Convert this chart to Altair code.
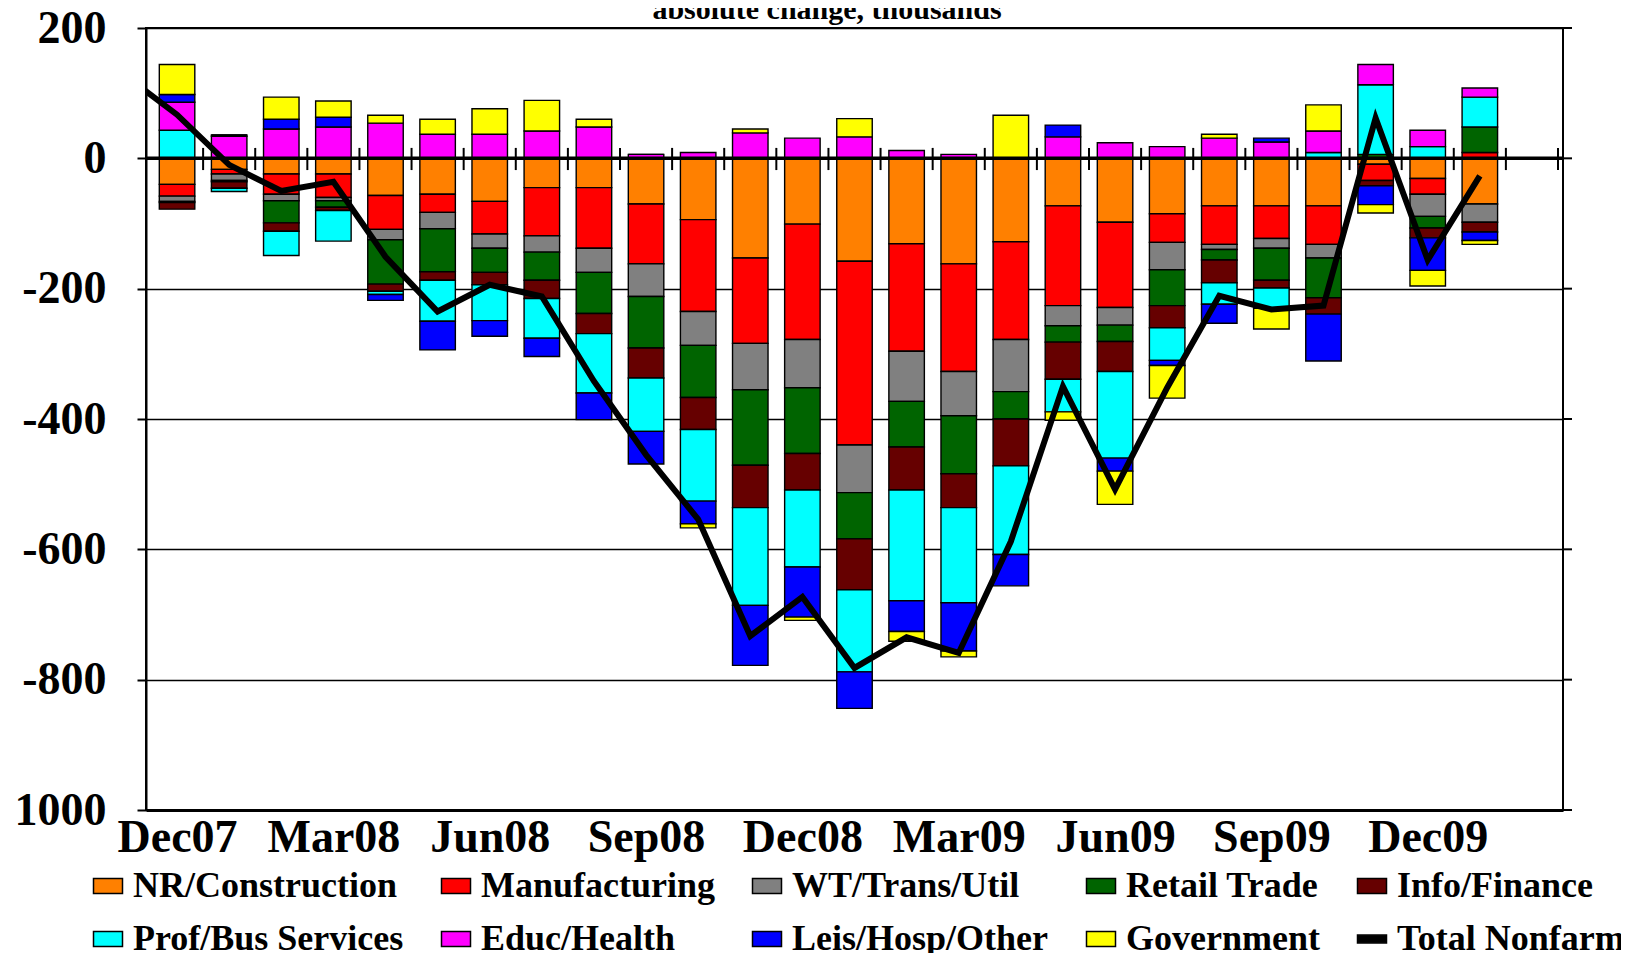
import altair as alt
import pandas as pd

# ---------------- data ----------------
months = ["Dec07", "Jan08", "Feb08", "Mar08", "Apr08", "May08", "Jun08", "Jul08",
          "Aug08", "Sep08", "Oct08", "Nov08", "Dec08", "Jan09", "Feb09", "Mar09",
          "Apr09", "May09", "Jun09", "Jul09", "Aug09", "Sep09", "Oct09", "Nov09",
          "Dec09", "Jan10", "Feb10"]
label_months = ["Dec07", "Mar08", "Jun08", "Sep08", "Dec08", "Mar09", "Jun09", "Sep09", "Dec09"]

series = ["NR/Construction", "Manufacturing", "WT/Trans/Util", "Retail Trade",
          "Info/Finance", "Prof/Bus Services", "Educ/Health", "Leis/Hosp/Other",
          "Government"]
colors = ["#FF8000", "#FF0000", "#808080", "#006400", "#660000",
          "#00FFFF", "#FF00FF", "#0000FF", "#FFFF00"]
total_name = "Total Nonfarm"

nr_construction = [-40, -17, -24, -24, -57, -55, -66, -45, -45, -70, -94, -153, -101,
                   -158, -131, -162, -128, -73, -98, -85, -73, -73, -73, -9, -31, -70]
manufacturing = [-18, -7, -31, -36, -52, -28, -50, -74, -93, -92, -141, -131, -177,
                 -282, -165, -165, -150, -153, -131, -44, -59, -50, -59, -25, -24, 9]
wt_trans_util = [-8, -10, -10, -5, -16, -25, -22, -25, -37, -50, -52, -71, -74,
                 -73, -77, -68, -80, -31, -27, -42, -8, -15, -21, 0, -34, -28]
retail_trade = [-2, -2, -34, -10, -68, -66, -37, -43, -63, -79, -80, -116, -101,
                -71, -70, -89, -42, -25, -25, -55, -16, -49, -61, 6, -18, 39]
info_finance = [-10, -10, -13, -5, -11, -13, -19, -28, -31, -46, -49, -65, -56,
                -78, -66, -52, -72, -57, -46, -34, -35, -12, -25, -8, -15, -15]
prof_bus = [43, -5, -37, -47, -5, -63, -55, -61, -91, -82, -110, -150, -118,
            -126, -170, -146, -136, -50, -133, -50, -33, -31, 9, 107, 18, 46]
educ_health = [43, 34, 45, 48, 54, 37, 37, 42, 48, 6, 9, 39, 31,
               33, 12, 6, 0, 33, 24, 18, 31, 25, 33, 31, 25, 14]
leis_hosp = [12, 2, 15, 15, -9, -44, -24, -28, -41, -50, -35, -92, -77,
             -56, -47, -74, -48, 18, -20, -8, -29, 6, -72, -29, -50, -13]
government = [46, 0, 34, 25, 12, 23, 39, 47, 12, 0, -6, 6, -5,
              28, -15, -9, 66, -13, -51, -50, 6, -32, 40, -13, -24, -6]

total_nonfarm = [67, -10, -50, -36, -151, -235, -194, -212, -342, -455, -554, -733, -673,
                 -782, -735, -759, -588, -350, -508, -352, -211, -232, -226, 62, -156, -27]
total_prev_month = 127  # Nov07, drawn off the left edge (clipped)

y_ticks = [200, 0, -200, -400, -600, -800, -1000]
chart_title = "absolute change, thousands"

# ---------------- tables ----------------
series_values = [nr_construction, manufacturing, wt_trans_util, retail_trade,
                 info_finance, prof_bus, educ_health, leis_hosp, government]
rows = []
for s_i, (name, vals) in enumerate(zip(series, series_values)):
    for m_i, v in enumerate(vals):
        rows.append({"idx": m_i, "month": months[m_i], "series": name,
                     "ord": s_i, "value": v})
bars_df = pd.DataFrame(rows)

line_df = pd.DataFrame({"idx": list(range(-1, len(total_nonfarm))),
                        "total": [total_prev_month] + total_nonfarm})
bounds_df = pd.DataFrame({"b": [i + 0.5 for i in range(len(months))]})
yt_df = pd.DataFrame({"t": y_ticks})
zero_df = pd.DataFrame({"z": [0]})
title_df = pd.DataFrame({"t": [chart_title]})

# ---------------- layout ----------------
W, H = 1417, 782
FONT = "Liberation Serif"
xdomain = [-0.5, len(months) - 0.5]
xscale = alt.Scale(domain=xdomain, nice=False, zero=False)
yscale = alt.Scale(domain=[-1000, 200], nice=False, zero=False)

month_arr = "[" + ",".join("'%s'" % m for m in months) + "]"
box_path = "M-1,-0.52H1V0.52H-1Z"
dash_path = "M-1,-0.27H1V0.27H-1Z"

bars = alt.Chart(bars_df).mark_bar(size=35.5, stroke="black", strokeWidth=1.4).encode(
    x=alt.X("idx:Q", scale=xscale, title=None,
            axis=alt.Axis(values=[months.index(m) for m in label_months],
                          labelExpr=month_arr + "[datum.value]",
                          title=None, grid=False, ticks=False, labelPadding=5,
                          domainWidth=3, domainColor="black", labelAngle=0,
                          labelFlush=False, labelOverlap=False,
                          labelFont=FONT, labelFontSize=46, labelFontWeight="bold",
                          labelColor="black")),
    y=alt.Y("value:Q", stack="zero", scale=yscale, title=None,
            axis=alt.Axis(values=y_ticks, title=None, grid=True, gridColor="black",
                          gridWidth=1.3, gridOpacity=1, domainWidth=2, domainColor="black",
                          tickSize=9, tickWidth=2, tickColor="black", labelPadding=31,
                          labelExpr="datum.value == -1000 ? '1000' : '' + datum.value",
                          labelFont=FONT, labelFontSize=46, labelFontWeight="bold",
                          labelColor="black", labelFlush=False, labelOverlap=False)),
    color=alt.Color("series:N",
                    scale=alt.Scale(domain=series + [total_name], range=colors + ["#000000"]),
                    legend=alt.Legend(
                        title=None, orient="none", legendX=-56, legendY=840,
                        columns=5, direction="horizontal", columnPadding=34,
                        rowPadding=17, padding=0,
                        labelFont=FONT, labelFontSize=36, labelFontWeight="bold",
                        labelColor="black", labelOffset=7, labelLimit=400,
                        symbolSize=841, symbolStrokeColor="black",
                        symbolStrokeWidth=1.5, symbolOpacity=1,
                        symbolType={"expr": "datum.label == '%s' ? '%s' : '%s'"
                                            % (total_name, dash_path, box_path)})),
    order=alt.Order("ord:Q", sort="ascending"),
)

zero_line = alt.Chart(zero_df).mark_rule(color="black", strokeWidth=3.5).encode(
    y=alt.Y("z:Q", scale=yscale, title=None))

zero_ticks = alt.Chart(bounds_df).mark_rule(color="black", strokeWidth=2).encode(
    x=alt.X("b:Q", scale=xscale, title=None),
    y=alt.datum(16), y2=alt.datum(-18))

total_line = alt.Chart(line_df).mark_line(color="black", strokeWidth=6, clip=True).encode(
    x=alt.X("idx:Q", scale=xscale, title=None),
    y=alt.Y("total:Q", scale=yscale, title=None))

right_ticks = alt.Chart(yt_df).mark_rule(color="black", strokeWidth=2).encode(
    y=alt.Y("t:Q", scale=yscale, title=None),
    x=alt.value(W), x2=alt.value(W + 9))

title_mark = alt.Chart(title_df).mark_text(
    font=FONT, fontSize=30, fontWeight="bold", color="black",
    align="center", baseline="alphabetic").encode(
    text="t:N", x=alt.value(681), y=alt.value(-9))

chart = alt.layer(bars, zero_line, zero_ticks, total_line, right_ticks, title_mark).properties(
    width=W, height=H,
    background="white",
    autosize=alt.AutoSizeParams(type="none"),
    padding={"left": 138, "top": 20, "right": 58, "bottom": 143},
).configure_view(stroke="black", strokeWidth=2)

chart.save("out.html", embed_options={"renderer": "svg", "actions": False})
